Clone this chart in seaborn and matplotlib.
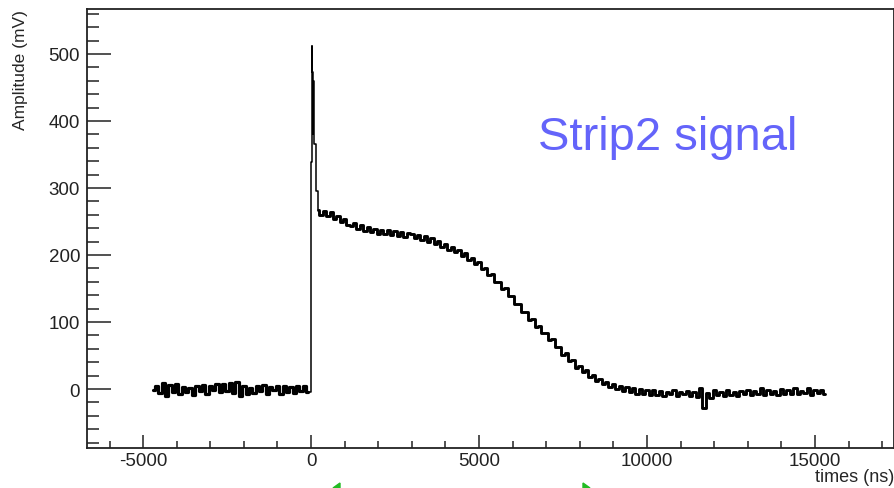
import numpy as np
import matplotlib
matplotlib.use("Agg")
import matplotlib.pyplot as plt
import seaborn as sns

# Waveform (ns, mV)
pre_times = np.arange(-4700, 0, 100)
pre_amp = [
    -2, 4, -6, 9, -10, 6, -4, 7, -8, 3,
    -5, 2, -9, 5, -3, 6, -7, 4, -2, 7,
    -4, 8, -3, 9, -6, 10, -11, 5, -8, 2,
    -6, 4, -3, 6, -7, 3, -2, 5, -8, 4,
    -5, 3, -6, 4, -3, 5, -4,
]

spike_times = [-100, -10, 15, 35, 55, 70, 90, 150, 200]
spike_amp = [-4, 339, 512, 473, 380, 460, 366, 296, 267]

post_times = np.arange(200, 15400, 100)
post_amp = [
    267, 259, 265, 258, 264, 253, 258, 249, 254, 245,
    243, 248, 239, 244, 236, 241, 234, 239, 232, 238,
    231, 237, 230, 236, 229, 234, 227, 233, 231, 225,
    230, 223, 228, 220, 226, 217, 221, 212, 217, 208,
    212, 204, 208, 198, 203, 193, 196, 186, 190, 179,
    181, 170, 171, 160, 160, 149, 151, 139, 139, 127,
    127, 115, 115, 103, 104, 92, 94, 83, 84, 73,
    74, 63, 63, 51, 53, 42, 43, 32, 34, 25,
    28, 18, 21, 12, 15, 7, 11, 3, 7, 0,
    5, -3, 3, -5, 2, -7, 0, -8, -1, -9,
    -2, -9, -3, -10, -4, -8, -1, -11, -5, -7,
    -3, -10, -4, -12, 2, -28, -6, -13, -1, -9,
    -4, -11, -2, -9, -5, -10, -3, -8, -1, -9,
    -3, -8, 1, -9, -2, -7, -3, -9, 0, -8,
    -2, -7, 1, -8, -3, -6, 2, -9, -1, -6,
    -2, -7,
]

sns.set_style("white")
plt.rcParams["font.family"] = ["Liberation Sans", "DejaVu Sans"]
plt.rcParams["axes.unicode_minus"] = False

fig = plt.figure(figsize=(8.95, 4.89), dpi=100)
ax = fig.add_axes([87 / 895, 40 / 489, 807 / 895, 439 / 489])

# noisy parts drawn thick, the fast spike as a thin step line
sns.lineplot(x=pre_times, y=pre_amp, drawstyle="steps-mid", color="black",
             linewidth=2.3, estimator=None, sort=False, ax=ax)
sns.lineplot(x=post_times, y=post_amp, drawstyle="steps-mid", color="black",
             linewidth=2.1, estimator=None, sort=False, ax=ax)
sns.lineplot(x=spike_times, y=spike_amp, drawstyle="steps-post", color="black",
             linewidth=1.1, estimator=None, sort=False, ax=ax)

ax.set_xlim(-6670, 17350)
ax.set_ylim(-88, 567)
ax.set_xticks([-5000, 0, 5000, 10000, 15000])
ax.set_xticks(np.arange(-6000, 18000, 1000), minor=True)
ax.set_yticks([0, 100, 200, 300, 400, 500])
ax.set_yticks(np.arange(-80, 570, 20), minor=True)

ax.tick_params(axis="both", which="both", direction="in", colors="#222222",
               labelsize=13.5, width=1.1, bottom=True, left=True,
               top=False, right=False)
ax.tick_params(axis="y", which="major", length=17, pad=5)
ax.tick_params(axis="y", which="minor", length=8.6)
ax.tick_params(axis="x", which="major", length=9.4, pad=3)
ax.tick_params(axis="x", which="minor", length=5)

for s in ax.spines.values():
    s.set_color("#222222")
    s.set_linewidth(1.3)

ax.set_ylabel("Amplitude (mV)", fontsize=12.5, loc="top")
ax.yaxis.set_label_coords(-0.073, 1.0)
ax.set_xlabel("times (ns)", fontsize=13, loc="right")
ax.xaxis.set_label_coords(1.0, -0.045)
ax.xaxis.label.set_va("top")

ax.text(0.559, 0.681, "Strip2 signal", transform=ax.transAxes, fontsize=34,
        color="#6464fa", va="baseline")

# small green markers cut off at the bottom edge
for pts in ([(333, 489), (340, 484), (340, 489)], [(583, 484), (590, 489), (583, 489)]):
    fig.add_artist(plt.Polygon([(x / 895, 1 - y / 489) for x, y in pts],
                               closed=True, color="#22bb22", transform=fig.transFigure))

fig.savefig("out.png", dpi=100)
